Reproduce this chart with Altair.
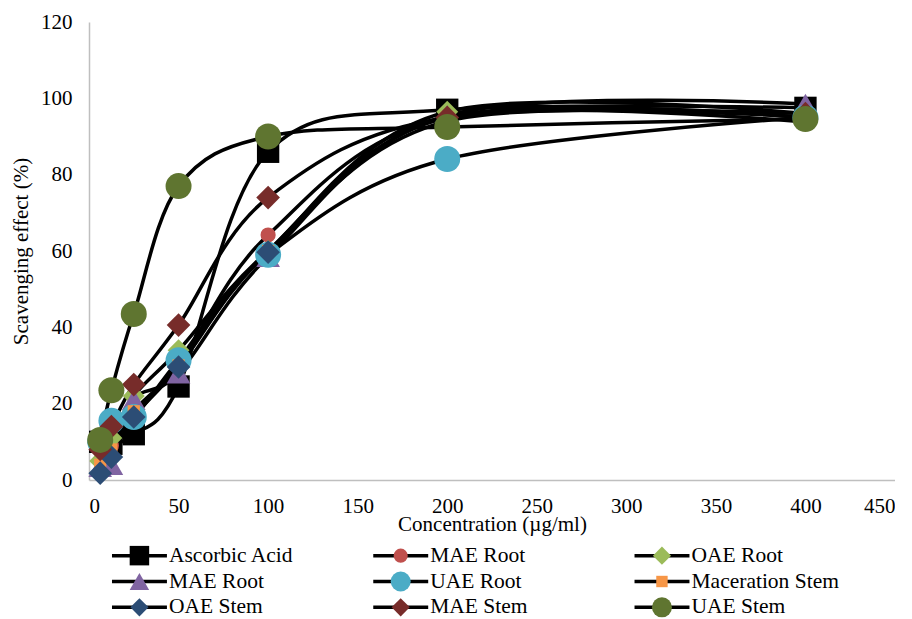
import altair as alt
import pandas as pd

conc = [6.25, 12.5, 25, 50, 100, 200, 400]

series_names = ["Ascorbic Acid", "MAE Root", "OAE Root", "MAE Root", "UAE Root",
                "Maceration Stem", "OAE Stem", "MAE Stem", "UAE Stem"]
series_colors = ["#000000", "#c0504d", "#9bbb59", "#8064a2", "#4bacc6",
                 "#f79646", "#2c4d75", "#772c2a", "#5f7530"]
series_shapes = ["square", "circle", "diamond", "triangle-up", "circle",
                 "square", "diamond", "diamond", "circle"]
series_sizes = [500, 230, 480, 560, 676, 150, 560, 560, 676]
legend_sizes = [380, 200, 330, 380, 400, 130, 330, 330, 400]

values = [
    [10.0, 9.5, 12.0, 24.5, 86.0, 97.0, 97.5],   # Ascorbic Acid
    [5.0, 9.0, 18.0, 30.0, 64.2, 95.0, 93.8],    # MAE Root
    [5.0, 11.0, 22.0, 34.0, 60.0, 96.5, 96.0],   # OAE Root
    [3.5, 4.0, 21.0, 28.0, 58.5, 95.5, 98.5],    # MAE Root (purple)
    [10.0, 15.5, 16.5, 31.4, 59.0, 84.1, 95.0],  # UAE Root
    [4.0, 8.0, 18.0, 30.0, 60.0, 95.0, 95.0],    # Maceration Stem
    [1.8, 6.0, 16.5, 29.6, 59.7, 94.0, 95.0],    # OAE Stem
    [8.0, 14.0, 25.0, 40.6, 74.0, 95.0, 96.0],   # MAE Stem
    [10.5, 23.5, 43.5, 77.0, 90.0, 92.5, 94.6],  # UAE Stem
]

rows = []
for i, (name, vals) in enumerate(zip(series_names, values)):
    for c, v in zip(conc, vals):
        rows.append({"sid": i, "name": name, "conc": c, "val": v})
df = pd.DataFrame(rows)

FONT = "Liberation Serif"
W, H = 806, 458

xsc = alt.Scale(domain=[0, 450])
ysc = alt.Scale(domain=[0, 120])

xaxis = alt.Axis(values=list(range(0, 451, 50)), title="Concentration (µg/ml)",
                 labelPadding=15, titlePadding=-3, ticks=False, grid=False,
                 labelFlush=True, domainColor="#bfbfbf", domainWidth=1.5)
yaxis = alt.Axis(values=list(range(0, 121, 20)), title="Scavenging effect (%)",
                 labelPadding=17, titlePadding=9, ticks=False, grid=False,
                 domainColor="#bfbfbf", domainWidth=1.5)

lines = alt.Chart(df).mark_line(interpolate="cardinal", tension=0, color="black",
                                strokeWidth=3.5).encode(
    x=alt.X("conc:Q", scale=xsc, axis=xaxis),
    y=alt.Y("val:Q", scale=ysc, axis=yaxis),
    detail="sid:N",
)

layers = [lines]
for i in range(len(series_names)):
    pts = alt.Chart(df[df["sid"] == i]).mark_point(
        shape=series_shapes[i], filled=True, opacity=1, size=series_sizes[i],
        color=series_colors[i]).encode(
        x=alt.X("conc:Q", scale=xsc),
        y=alt.Y("val:Q", scale=ysc),
    )
    layers.append(pts)

main = alt.layer(*layers).properties(width=W, height=H)

# custom legend: line + marker + text, 3 columns
leg_rows = []
for i, name in enumerate(series_names):
    col = i % 3
    r = i // 3
    leg_rows.append({"sid": i, "name": name, "row": r,
                     "x1": col, "x2": col + 0.2103, "xm": col + 0.105, "xt": col + 0.218})
ldf = pd.DataFrame(leg_rows)

lxs = alt.Scale(domain=[-0.088, 2.997])
lys = alt.Scale(domain=[-0.45, 2.45], reverse=True)
LH = 75

leg_lines = alt.Chart(ldf).mark_rule(color="black", strokeWidth=3.5).encode(
    x=alt.X("x1:Q", scale=lxs, axis=None),
    x2="x2:Q",
    y=alt.Y("row:Q", scale=lys, axis=None),
)
leg_layers = [leg_lines]
for i in range(len(series_names)):
    lp = alt.Chart(ldf[ldf["sid"] == i]).mark_point(
        shape=series_shapes[i], filled=True, opacity=1, size=legend_sizes[i],
        color=series_colors[i]).encode(
        x=alt.X("xm:Q", scale=lxs, axis=None),
        y=alt.Y("row:Q", scale=lys, axis=None),
    )
    leg_layers.append(lp)
leg_text = alt.Chart(ldf).mark_text(align="left", baseline="middle", font=FONT,
                                    fontSize=21.5, color="black").encode(
    x=alt.X("xt:Q", scale=lxs, axis=None),
    y=alt.Y("row:Q", scale=lys, axis=None),
    text="name:N",
)
leg_layers.append(leg_text)
legend = alt.layer(*leg_layers).properties(width=W, height=LH)

chart = alt.vconcat(main, legend, spacing=10).properties(
    padding={"left": 2, "top": 3, "right": 0, "bottom": 0},
    background="white",
).configure_view(stroke=None).configure_axis(
    labelFont=FONT, titleFont=FONT, labelFontSize=21, titleFontSize=21,
    labelColor="black", titleColor="black", titleFontWeight="normal",
)

chart.save("out.html", embed_options={"renderer": "svg", "actions": False})
